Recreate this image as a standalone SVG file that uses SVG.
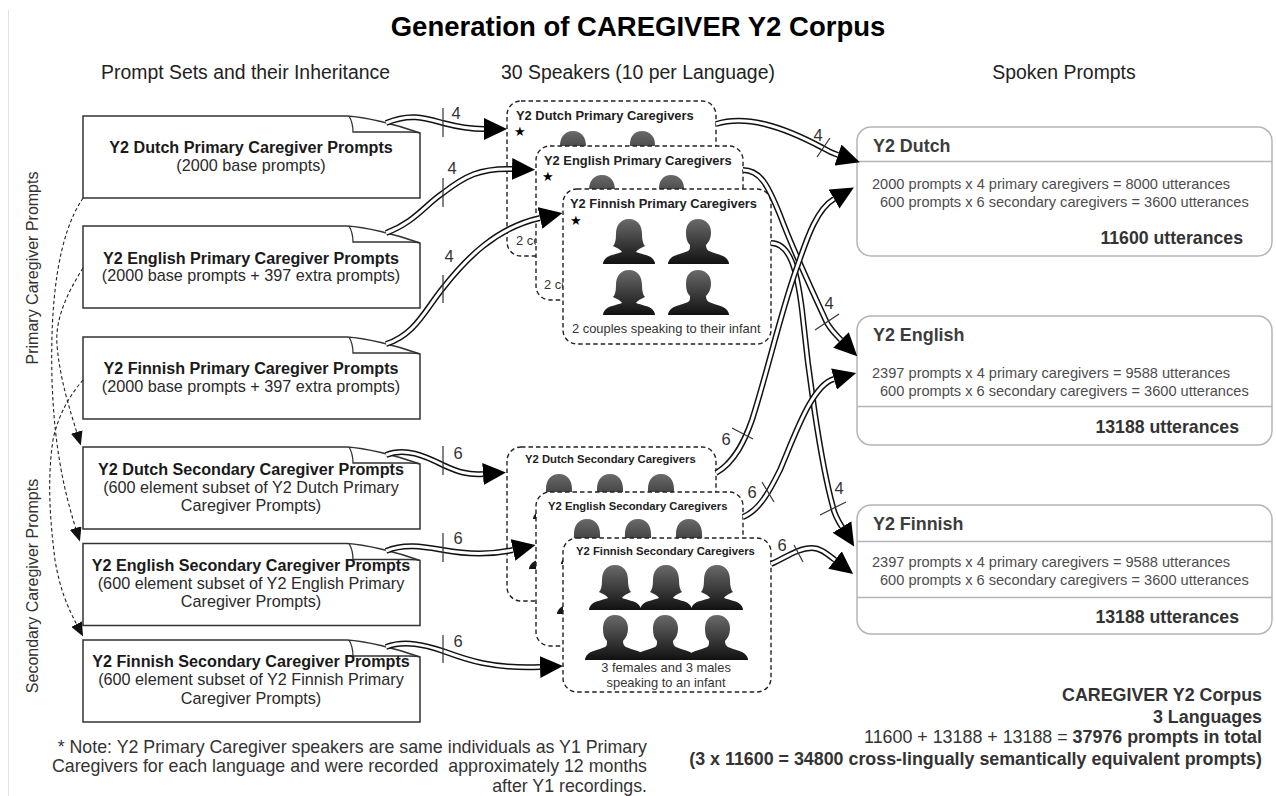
<svg xmlns="http://www.w3.org/2000/svg" width="1276" height="796" viewBox="0 0 1276 796">
<style>
text{font-family:"Liberation Sans",Arial,sans-serif;fill:#1a1a1a}
.t{font-size:27.500px;font-weight:bold;fill:#000;text-anchor:middle}
.h{font-size:19.400px;text-anchor:middle;fill:#222}
.v{font-size:16px;text-anchor:middle;fill:#333}
.dt{font-size:16.150px;font-weight:bold;text-anchor:middle}
.ds{font-size:16.200px;text-anchor:middle;fill:#2a2a2a}
.sp{font-size:12.900px;font-weight:bold;fill:#222}
.ss{font-size:11.250px;font-weight:bold;fill:#222}
.cap{font-size:12.900px;fill:#333}
.star{font-family:"DejaVu Sans",sans-serif;font-size:13px;fill:#000}
.rt{font-size:17.900px;font-weight:bold;fill:#3c3c3c}
.rd{font-size:14.600px;fill:#4d4d4d}
.rs{font-size:17.700px;font-weight:bold;fill:#333;text-anchor:end}
.b{font-size:17.850px;fill:#333;text-anchor:end}
.bb{font-weight:bold}
.n{font-size:17.800px;fill:#333;text-anchor:end}
.lab{font-size:16.500px;fill:#333;text-anchor:middle}
.doc{fill:#fff;stroke:#333;stroke-width:1.5}
.fold{fill:none;stroke:#333;stroke-width:1.3}
.spk{fill:#fff;stroke:#222;stroke-width:1.4;stroke-dasharray:4.5 3}
.rb{fill:#fff;stroke:#b5b5b5;stroke-width:1.5}
.rl{stroke:#b5b5b5;stroke-width:1.5}
.o{fill:none;stroke:#111;stroke-width:6;marker-end:url(#big)}
.i{fill:none;stroke:#fff;stroke-width:3}
.hash{stroke:#333;stroke-width:1.2}
.dash{fill:none;stroke:#222;stroke-width:1.1;stroke-dasharray:3.5 2.5;marker-end:url(#small)}
</style>
<defs>
<linearGradient id="g" x1="0" y1="0" x2="0" y2="1"><stop offset="0" stop-color="#6a6a6a"/><stop offset="1" stop-color="#111"/></linearGradient>
<marker id="big" markerUnits="userSpaceOnUse" markerWidth="23" markerHeight="22" refX="0" refY="11" orient="auto" viewBox="0 0 23 22"><path d="M0,0L23,11L0,22Z" fill="#000"/></marker>
<marker id="small" markerUnits="userSpaceOnUse" markerWidth="14" markerHeight="12" refX="1" refY="6" orient="auto" viewBox="0 0 14 12"><path d="M0,0L14,6L0,12Z" fill="#111"/></marker>
<path id="docp" class="doc" d="M83,0H347C365,1 395,8 420,17V82H83Z"/>
<path id="foldp" class="fold" d="M349,0C352,5 353,9 353,16H408C413,16 417,16 420,17"/>
<path id="f" fill="url(#g)" d="M26,0C35,0 39,7 39,15C39,21 40,25 42,27L38,29C36,30 34,31 33,33C38,35 46,36 49,39C51,41 52,43 52,45H0C0,43 1,41 3,39C6,36 14,35 19,33C18,31 16,30 14,29L10,27C12,25 13,21 13,15C13,7 17,0 26,0Z"/>
<path id="m" fill="url(#g)" d="M30,0C38,0 43,6 43,13C43,19 41,23 38,26C38,29 39,31 41,32C48,35 55,36 58,39C60,41 61,43 61,45H0C0,43 1,41 3,39C6,36 13,35 20,32C22,31 22,29 22,26C19,23 18,19 18,13C18,6 22,0 30,0Z"/>
<g id="p4"><use href="#f" x="0" y="0"/><use href="#m" x="65" y="0"/><use href="#f" x="0" y="51"/><use href="#m" x="65" y="51"/></g>
<g id="p6"><use href="#f" x="0" y="0"/><use href="#f" x="51" y="0"/><use href="#f" x="102" y="0"/><use href="#m" x="-4" y="50"/><use href="#m" x="46" y="50"/><use href="#m" x="98" y="50"/></g>
</defs>
<rect width="1276" height="796" fill="#fff"/>
<path d="M8.500,10V796" stroke="#e2e2e2" stroke-width="1" fill="none"/>
<text class="t" x="638" y="36">Generation of CAREGIVER Y2 Corpus</text>
<text class="h" x="245.500" y="79">Prompt Sets and their Inheritance</text>
<text class="h" x="638" y="79">30 Speakers (10 per Language)</text>
<text class="h" x="1064" y="79">Spoken Prompts</text>
<text class="v" transform="translate(38,268) rotate(-90)">Primary Caregiver Prompts</text>
<text class="v" transform="translate(38,586) rotate(-90)">Secondary Caregiver Prompts</text>

<g id="doc-dutch-primary"><use href="#docp" y="116"/><use href="#foldp" y="116"/><text class="dt" x="251" y="153">Y2 Dutch Primary Caregiver Prompts</text><text class="ds" x="251" y="171">(2000 base prompts)</text></g>
<g id="doc-english-primary"><use href="#docp" y="226"/><use href="#foldp" y="226"/><text class="dt" x="251" y="264">Y2 English Primary Caregiver Prompts</text><text class="ds" x="251" y="281">(2000 base prompts + 397 extra prompts)</text></g>
<g id="doc-finnish-primary"><use href="#docp" y="337"/><use href="#foldp" y="337"/><text class="dt" x="251" y="374">Y2 Finnish Primary Caregiver Prompts</text><text class="ds" x="251" y="392">(2000 base prompts + 397 extra prompts)</text></g>
<g id="doc-dutch-secondary"><use href="#docp" y="447"/><use href="#foldp" y="447"/><text class="dt" x="251" y="475">Y2 Dutch Secondary Caregiver Prompts</text><text class="ds" x="251" y="493">(600 element subset of Y2 Dutch Primary</text><text class="ds" x="251" y="511">Caregiver Prompts)</text></g>
<g id="doc-english-secondary"><use href="#docp" y="543.500"/><use href="#foldp" y="543.500"/><text class="dt" x="251" y="571">Y2 English Secondary Caregiver Prompts</text><text class="ds" x="251" y="589">(600 element subset of Y2 English Primary</text><text class="ds" x="251" y="607">Caregiver Prompts)</text></g>
<g id="doc-finnish-secondary"><use href="#docp" y="640"/><use href="#foldp" y="640"/><text class="dt" x="251" y="667">Y2 Finnish Secondary Caregiver Prompts</text><text class="ds" x="251" y="685">(600 element subset of Y2 Finnish Primary</text><text class="ds" x="251" y="704">Caregiver Prompts)</text></g>

<g id="spk-dutch-primary"><rect class="spk" x="507" y="101" width="209" height="155" rx="14"/><text class="sp" x="516" y="120">Y2 Dutch Primary Caregivers</text><text class="star" x="514" y="136">★</text><use href="#p4" x="547" y="131"/><text class="cap" x="516" y="245">2 couples speaking to their infant</text></g>
<g id="spk-english-primary"><rect class="spk" x="536" y="146" width="207" height="154" rx="14"/><text class="sp" x="544" y="165">Y2 English Primary Caregivers</text><text class="star" x="542" y="181">★</text><use href="#p4" x="576" y="175"/><text class="cap" x="544" y="289">2 couples speaking to their infant</text></g>
<g id="spk-finnish-primary"><rect class="spk" x="563" y="189" width="208" height="155" rx="14"/><text class="sp" x="570" y="208">Y2 Finnish Primary Caregivers</text><text class="star" x="570" y="225">★</text><use href="#p4" x="603" y="219"/><text class="cap" x="572" y="333">2 couples speaking to their infant</text></g>
<g id="spk-dutch-secondary"><rect class="spk" x="507" y="447" width="209" height="154" rx="14"/><text class="ss" x="525" y="463">Y2 Dutch Secondary Caregivers</text><use href="#p6" x="533" y="474"/></g>
<g id="spk-english-secondary"><rect class="spk" x="536" y="492" width="207" height="154" rx="14"/><text class="ss" x="548" y="510">Y2 English Secondary Caregivers</text><use href="#p6" x="561" y="519"/></g>
<g id="spk-finnish-secondary"><rect class="spk" x="563" y="538" width="208" height="154" rx="14"/><text class="ss" x="576" y="555">Y2 Finnish Secondary Caregivers</text><use href="#p6" x="589" y="565"/><text class="cap" x="666" y="672" text-anchor="middle">3 females and 3 males</text><text class="cap" x="666" y="687" text-anchor="middle">speaking to an infant</text></g>

<g id="out-dutch"><rect class="rb" x="857" y="127" width="415" height="129" rx="14"/><path class="rl" d="M857,161.500H1272"/><text class="rt" x="873" y="152">Y2 Dutch</text><text class="rd" x="872" y="189">2000 prompts x 4 primary caregivers = 8000 utterances</text><text class="rd" x="880" y="207">600 prompts x 6 secondary caregivers = 3600 utterances</text><text class="rs" x="1243" y="244">11600 utterances</text></g>
<g id="out-english"><rect class="rb" x="857" y="316" width="415" height="129" rx="14"/><path class="rl" d="M857,406.500H1272"/><text class="rt" x="873" y="341">Y2 English</text><text class="rd" x="872" y="378">2397 prompts x 4 primary caregivers = 9588 utterances</text><text class="rd" x="880" y="396">600 prompts x 6 secondary caregivers = 3600 utterances</text><text class="rs" x="1239" y="433">13188 utterances</text></g>
<g id="out-finnish"><rect class="rb" x="857" y="505" width="415" height="129" rx="14"/><path class="rl" d="M857,541.500H1272M857,597.500H1272"/><text class="rt" x="873" y="530">Y2 Finnish</text><text class="rd" x="872" y="567">2397 prompts x 4 primary caregivers = 9588 utterances</text><text class="rd" x="880" y="585">600 prompts x 6 secondary caregivers = 3600 utterances</text><text class="rs" x="1239" y="623">13188 utterances</text></g>

<g id="connectors">
<path class="dash" d="M83,198C58,235 50,300 52,380C54,440 62,485 76,529"/>
<path class="dash" d="M83,268C66,295 55,320 57,345C60,380 70,410 77,433"/>
<path class="dash" d="M83,380C70,395 58,415 53,440C47,480 50,520 55,560C60,590 68,608 77,625"/>

<path class="o" d="M386,123C410,113 425,118 443,123C458,127 470,129 484,129"/><path class="i" d="M386,123C410,113 425,118 443,123C458,127 470,129 484,129"/>
<path class="o" d="M386,233C415,222 425,205 443,193C465,176 480,168 512,169"/><path class="i" d="M386,233C415,222 425,205 443,193C465,176 480,168 512,169"/>
<path class="o" d="M386,344C415,335 425,310 443,288C465,260 495,228 540,218"/><path class="i" d="M386,344C415,335 425,310 443,288C465,260 495,228 540,218"/>
<path class="o" d="M386,455C405,447 425,456 443,465C458,472 468,475 483,474"/><path class="i" d="M386,455C405,447 425,456 443,465C458,472 468,475 483,474"/>
<path class="o" d="M386,551C405,543 425,547 443,550C465,554 490,555 513,550"/><path class="i" d="M386,551C405,543 425,547 443,550C465,554 490,555 513,550"/>
<path class="o" d="M386,647C405,640 425,645 443,651C465,659 490,669 540,667"/><path class="i" d="M386,647C405,640 425,645 443,651C465,659 490,669 540,667"/>

<path class="o" d="M716,124C745,115 780,125 823,148C828,151 832,153 838,155"/><path class="i" d="M716,124C745,115 780,125 823,148C828,151 832,153 838,155"/>
<path class="o" d="M743,170C760,170 768,185 780,215C795,255 812,290 827,323C830,328 834,333 841,340"/><path class="i" d="M743,170C760,170 768,185 780,215C795,255 812,290 827,323C830,328 834,333 841,340"/>
<path class="o" d="M771,243C790,243 797,270 802,310C808,370 820,460 833,507C834,513 837,519 842,527"/><path class="i" d="M771,243C790,243 797,270 802,310C808,370 820,460 833,507C834,513 837,519 842,527"/>
<path class="o" d="M716,473C735,462 745,440 752,420C768,370 780,315 796,270C805,245 815,210 834,199"/><path class="i" d="M716,473C735,462 745,440 752,420C768,370 780,315 796,270C805,245 815,210 834,199"/>
<path class="o" d="M743,517C760,510 770,490 780,470C795,435 812,385 834,379"/><path class="i" d="M743,517C760,510 770,490 780,470C795,435 812,385 834,379"/>
<path class="o" d="M771,564C785,558 798,548 812,548C820,548 826,553 835,560"/><path class="i" d="M771,564C785,558 798,548 812,548C820,548 826,553 835,560"/>

<path class="hash" d="M443,108V137M443,178V207M443,275V303M443,446V475M443,533V562M443,635V663M817,157L830,138M815,330L839,314M820,515L846,502M732,428L753,439M762,482L774,502M794,545L803,562"/>
<g class="labels">
<text class="lab" x="456" y="119">4</text><text class="lab" x="452" y="174">4</text><text class="lab" x="449" y="262">4</text>
<text class="lab" x="458" y="459">6</text><text class="lab" x="458" y="544">6</text><text class="lab" x="458" y="647">6</text>
<text class="lab" x="818" y="141">4</text><text class="lab" x="829" y="309">4</text><text class="lab" x="839" y="494">4</text>
<text class="lab" x="726" y="445">6</text><text class="lab" x="752" y="498">6</text><text class="lab" x="782" y="551">6</text>
</g>
</g>

<g id="corpus-summary">
<text class="b bb" x="1262" y="701">CAREGIVER Y2 Corpus</text>
<text class="b bb" x="1262" y="723">3 Languages</text>
<text class="b" x="1262" y="743">11600 + 13188 + 13188 = <tspan class="bb">37976 prompts in total</tspan></text>
<text class="b bb" x="1262" y="765">(3 x 11600 = 34800 cross-lingually semantically equivalent prompts)</text>
</g>
<g id="note">
<text class="n" x="647" y="753">* Note: Y2 Primary Caregiver speakers are same individuals as Y1 Primary</text>
<text class="n" x="647" y="772" xml:space="preserve">Caregivers for each language and were recorded  approximately 12 months</text>
<text class="n" x="647" y="792">after Y1 recordings.</text>
</g>
</svg>
